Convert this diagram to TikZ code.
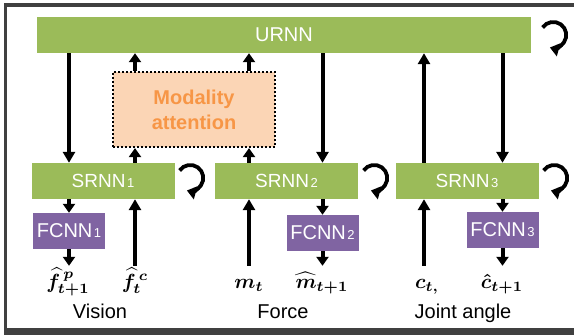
\documentclass[tikz,border=0pt]{standalone}
\usepackage{bm}
\usepackage[no-math]{fontspec}
\setmainfont{Liberation Sans}
\usetikzlibrary{arrows.meta}

\definecolor{rnngreen}{HTML}{9BBB59}
\definecolor{fcpurple}{HTML}{8064A2}
\definecolor{attnfill}{HTML}{FBD5B5}
\definecolor{attntext}{HTML}{F79646}
\definecolor{framegray}{HTML}{404040}

\newcommand{\rnnidx}[1]{\kern1.5pt{\fontsize{13}{13}\selectfont #1}}
\newcommand{\sigmath}[1]{\scalebox{2.05}{$\bm{#1}$}}

\begin{document}
\begin{tikzpicture}[x=1pt, y=1pt,
    rbox/.style = {
        fill=rnngreen, text=white,
        minimum width=143pt, minimum height=36pt,
        inner sep=0pt, font=\fontsize{19}{19}\selectfont
    },
    fbox/.style = {
        fill=fcpurple, text=white,
        minimum width=72pt, minimum height=36pt,
        inner sep=0pt, font=\fontsize{20}{20}\selectfont
    },
    abox/.style = {
        fill=attnfill, draw=black, line width=2.2pt,
        dash pattern=on 2pt off 2pt,
        minimum width=162pt, minimum height=75pt,
        align=center, inner sep=0pt, text=attntext,
        font=\fontsize{20}{25}\selectfont\bfseries
    },
    lbl/.style = {
        anchor=base, inner sep=0pt,
        text height=22pt, text depth=6pt
    },
    mlabel/.style = {anchor=base, inner sep=0pt, font=\fontsize{20}{20}\selectfont},
    arr/.style = {-{Triangle[width=12pt,length=11pt]}, line width=4pt},
    sarr/.style = {-{Triangle[width=12pt,length=9pt]}, line width=4pt},
    recur/.style = {-{Triangle[width=13pt,length=9pt]}, line width=3.8pt}
]

\useasboundingbox (0,0) rectangle (574,-335);

%% ---- FRAME ----
\fill[framegray] (4,-3) rectangle (574,-6.5);
\fill[framegray] (4,-3) rectangle (6.5,-335);
\fill[framegray] (4,-328) rectangle (574,-335);

%% ---- RNN BOXES ----
\node[rbox, minimum width=494pt, font=\fontsize{20}{20}\selectfont] (urnn) at (284,-35) {URNN};
\node[rbox] (srnn1) at (103,-181)   {SRNN\rnnidx{1}};
\node[rbox] (srnn2) at (286.5,-181) {SRNN\rnnidx{2}};
\node[rbox] (srnn3) at (467,-181)   {SRNN\rnnidx{3}};

%% ---- FCNN BOXES ----
\node[fbox] (fcnn1) at (69,-231)    {FCNN\rnnidx{1}};
\node[fbox] (fcnn2) at (322.5,-233) {FCNN\rnnidx{2}};
\node[fbox] (fcnn3) at (502.5,-230) {FCNN\rnnidx{3}};

%% ---- ATTENTION ----
\node[abox] (attn) at (194,-109.5) {Modality\\attention};

%% ---- SIGNALS ----
\node[lbl] (fp) at (68,-288)  {\sigmath{\widehat{f}^{\,p}_{t+1}}};
\node[lbl] (fc) at (135,-288) {\sigmath{\widehat{f}^{\,c}_{t}}};
\node[lbl] (mt) at (249,-288) {\sigmath{m_{t}}};
\node[lbl] (mh) at (322,-288) {\sigmath{\widehat{m}_{t+1}}};
\node[lbl] (ct) at (427,-288) {\sigmath{c_{t,}}};
\node[lbl] (ch) at (502,-288) {\sigmath{\hat{c}_{t+1}}};

\node[mlabel] (vision) at (100,-318) {Vision};
\node[mlabel] (force)  at (283,-318) {Force};
\node[mlabel] (joint)  at (463,-318) {Joint angle};

%% ---- TOP-DOWN ARROWS ----
\draw[arr] (urnn.south -| fcnn1) -- (srnn1.north -| fcnn1);
\draw[arr] (urnn.south -| fcnn2) -- (srnn2.north -| fcnn2);
\draw[arr] (urnn.south -| fcnn3) -- (srnn3.north -| fcnn3);
\draw[arr] ([xshift=-3pt]srnn3.north -| ct) -- ([xshift=-3pt]urnn.south -| ct);

%% ---- ATTENTION ARROWS ----
\draw[sarr] (srnn1.north -| fc) -- (attn.south -| fc);
\draw[sarr] (srnn2.north -| mt) -- (attn.south -| mt);
\draw[sarr] (attn.north -| fc) -- (urnn.south -| fc);
\draw[sarr] (attn.north -| mt) -- (urnn.south -| mt);

%% ---- OUTPUT ARROWS ----
\draw[sarr] (srnn1.south -| fcnn1) -- (fcnn1.north);
\draw[sarr] (srnn2.south -| fcnn2) -- (fcnn2.north);
\draw[sarr] (srnn3.south -| fcnn3) -- (fcnn3.north);
\draw[sarr] (fcnn1.south) -- (fp.north -| fcnn1);
\draw[sarr] (fcnn2.south) -- (mh.north -| fcnn2);
\draw[sarr] (fcnn3.south) -- (ch.north -| fcnn3);

%% ---- INPUT ARROWS ----
\draw[arr] (fc.north) -- (srnn1.south -| fc);
\draw[arr] (mt.north) -- (srnn2.south -| mt);
\draw[arr] ([xshift=-3pt]ct.north) -- ([xshift=-3pt]srnn3.south -| ct);

%% ---- RECURRENT LOOPS ----
\draw[recur] ([shift={(11.4,7.5)}]urnn.east)  arc[start angle=145, end angle=-105, radius=13];
\draw[recur] ([shift={(4.9,10.5)}]srnn1.east) arc[start angle=145, end angle=-105, radius=13];
\draw[recur] ([shift={(5.4,10.5)}]srnn2.east) arc[start angle=145, end angle=-105, radius=13];
\draw[recur] ([shift={(4.9,10.5)}]srnn3.east) arc[start angle=145, end angle=-105, radius=13];

\end{tikzpicture}
\end{document}
